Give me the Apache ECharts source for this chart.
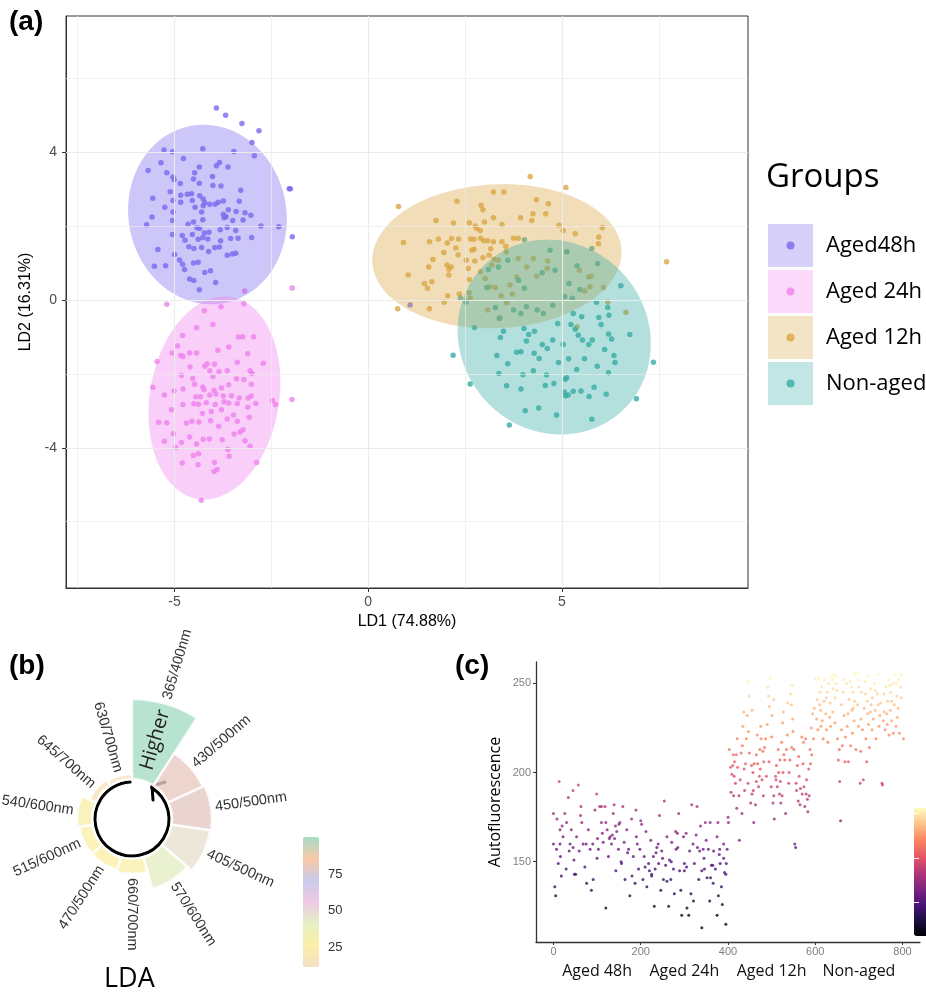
<!DOCTYPE html>
<html><head><meta charset="utf-8">
<script src="https://cdn.jsdelivr.net/npm/echarts/dist/echarts.min.js"></script>
<style>html,body{margin:0;padding:0;background:#fff}#chart{width:926px;height:994px}</style>
</head><body><div id="chart"></div>
<script>
// ---------- Panel (a): LDA scores ----------
const groupNames = ['Aged48h', 'Aged 24h', 'Aged 12h', 'Non-aged'];
const groupColors = ['#7B68EE', '#EE82EE', '#D9A645', '#36ADA4'];
const pts48 = [[-3.92,5.21],[-3.68,5.01],[-3.26,4.79],[-2.82,4.59],[-3.0,4.27],[-2.94,3.91],[-5.27,4.07],[-5.05,4.02],[-4.27,4.10],[-3.47,4.03],[-5.35,3.72],[-5.68,3.51],[-5.20,3.45],[-4.77,3.84],[-5.04,3.34],[-5.01,3.26],[-4.85,3.16],[-4.51,3.28],[-4.48,3.45],[-4.36,3.61],[-3.92,3.64],[-3.84,3.73],[-3.62,3.61],[-4.02,3.35],[-4.36,3.17],[-4.01,3.11],[-3.80,3.09],[-3.29,2.98],[-5.56,2.76],[-5.11,2.94],[-4.84,2.84],[-4.67,2.87],[-4.56,2.88],[-4.35,2.83],[-4.26,2.74],[-4.22,2.64],[-4.09,2.60],[-3.95,2.60],[-3.87,2.65],[-3.74,2.69],[-5.25,2.52],[-5.04,2.70],[-4.84,2.65],[-4.54,2.70],[-4.47,2.52],[-4.26,2.56],[-3.33,2.68],[-5.04,2.39],[-4.30,2.39],[-3.61,2.45],[-3.41,2.40],[-3.18,2.37],[-3.03,2.30],[-3.74,2.33],[-5.58,2.25],[-5.05,2.16],[-4.65,2.06],[-4.51,2.12],[-4.27,2.18],[-3.72,2.23],[-3.67,2.26],[-3.50,2.16],[-3.23,2.17],[-5.72,2.04],[-4.42,1.96],[-4.35,1.94],[-4.23,1.82],[-4.11,1.84],[-3.82,1.91],[-3.64,1.97],[-3.42,1.89],[-2.77,2.01],[-2.31,1.99],[-5.05,1.78],[-4.80,1.75],[-4.54,1.78],[-4.39,1.65],[-4.27,1.70],[-4.14,1.66],[-3.81,1.61],[-3.55,1.67],[-3.36,1.68],[-3.01,1.70],[-1.96,1.72],[-4.73,1.62],[-4.63,1.45],[-4.50,1.40],[-4.30,1.43],[-4.12,1.32],[-3.96,1.43],[-3.84,1.44],[-3.64,1.22],[-3.51,1.25],[-3.42,1.27],[-5.43,1.37],[-5.0,1.24],[-4.87,1.09],[-4.79,0.97],[-4.51,1.01],[-4.39,1.03],[-5.52,0.92],[-5.23,0.93],[-4.74,0.83],[-4.22,0.75],[-4.07,0.80],[-4.61,0.57],[-4.50,0.53],[-3.94,0.48],[-4.36,0.28],[-2.04,3.02],[-2.01,3.02],[1.08,-0.13]];
const pts24 = [[-3.19,0.25],[-1.96,0.33],[-5.20,-0.11],[-3.80,-0.18],[-3.21,-0.10],[-4.23,-0.29],[-4.43,-0.75],[-4.01,-0.66],[-4.79,-0.96],[-3.35,-1.0],[-3.24,-0.99],[-2.96,-0.99],[-4.92,-1.24],[-5.06,-1.43],[-4.84,-1.50],[-4.61,-1.43],[-4.43,-1.43],[-3.88,-1.36],[-3.60,-1.27],[-3.11,-1.45],[-5.45,-1.66],[-4.78,-1.53],[-4.22,-1.79],[-4.16,-1.73],[-3.97,-1.74],[-4.60,-1.81],[-3.38,-1.68],[-2.71,-1.71],[-4.09,-1.91],[-3.85,-1.93],[-3.64,-1.91],[-3.05,-1.91],[-3.0,-1.99],[-4.82,-2.04],[-4.53,-2.12],[-4.01,-2.07],[-3.40,-2.13],[-3.21,-2.15],[-3.02,-2.28],[-5.56,-2.36],[-5.01,-2.46],[-4.78,-2.41],[-4.48,-2.28],[-4.27,-2.35],[-4.24,-2.43],[-3.98,-2.44],[-3.79,-2.38],[-3.60,-2.29],[-5.26,-2.57],[-4.45,-2.62],[-4.33,-2.62],[-4.09,-2.57],[-3.93,-2.54],[-3.74,-2.60],[-3.53,-2.59],[-3.33,-2.65],[-3.10,-2.65],[-3.02,-2.60],[-2.47,-2.72],[-2.39,-2.83],[-1.97,-2.69],[-5.08,-2.97],[-4.78,-2.83],[-4.50,-2.81],[-4.38,-2.82],[-4.18,-2.78],[-3.95,-2.83],[-3.72,-2.75],[-3.60,-2.79],[-3.38,-2.80],[-2.90,-2.80],[-4.28,-3.07],[-4.05,-3.02],[-3.79,-2.97],[-3.48,-3.11],[-3.11,-2.90],[-3.07,-3.17],[-5.41,-3.31],[-5.20,-3.32],[-4.69,-3.33],[-4.55,-3.28],[-4.37,-3.30],[-4.07,-3.27],[-3.86,-3.42],[-3.64,-3.22],[-3.38,-3.28],[-3.23,-3.51],[-5.03,-3.62],[-4.82,-3.86],[-4.61,-3.71],[-4.43,-3.90],[-4.26,-3.77],[-4.10,-3.76],[-3.77,-3.78],[-3.46,-3.63],[-3.31,-3.57],[-5.26,-3.82],[-4.97,-3.99],[-4.51,-4.21],[-4.38,-4.16],[-3.62,-4.05],[-3.18,-3.81],[-3.05,-3.96],[-3.59,-4.23],[-4.80,-4.41],[-4.39,-4.46],[-3.97,-4.40],[-2.88,-4.40],[-3.98,-4.64],[-3.90,-4.59],[-4.31,-5.42]];
const pts12 = [[4.18,3.35],[5.10,3.05],[0.78,2.54],[3.23,2.93],[3.50,2.93],[2.29,2.68],[2.91,2.57],[2.96,2.45],[4.34,2.72],[4.65,2.61],[4.25,2.34],[4.58,2.34],[1.75,2.16],[2.20,2.09],[2.61,2.10],[2.76,2.01],[2.80,1.94],[2.89,1.89],[3.0,2.12],[3.23,2.23],[3.45,2.05],[3.93,2.23],[4.22,2.16],[4.92,2.03],[5.03,1.89],[5.34,1.80],[6.04,1.96],[5.95,1.71],[5.94,1.53],[0.91,1.56],[1.58,1.58],[1.81,1.66],[2.04,1.55],[2.15,1.67],[2.33,1.66],[2.64,1.66],[2.73,1.65],[2.90,1.68],[2.98,1.61],[3.08,1.61],[3.23,1.58],[3.45,1.58],[3.55,1.46],[3.75,1.68],[3.87,1.68],[1.95,1.29],[2.26,1.41],[2.32,1.23],[2.67,1.35],[2.73,1.38],[3.16,1.39],[1.67,1.10],[2.03,0.95],[2.08,0.84],[2.14,0.90],[2.53,1.08],[2.58,0.86],[2.75,1.06],[2.96,1.15],[3.12,1.22],[3.25,1.11],[3.36,1.08],[1.03,0.68],[1.56,0.90],[1.64,0.50],[1.45,0.45],[1.53,0.32],[2.08,0.68],[2.61,0.56],[2.90,0.77],[3.02,0.59],[3.14,0.36],[3.28,0.34],[2.05,0.12],[1.96,-0.06],[2.35,0.17],[2.61,0.20],[3.43,0.12],[3.57,-0.07],[3.72,0.17],[1.58,-0.23],[0.76,-0.23],[2.63,0.05],[3.08,-0.27],[3.40,-0.48],[4.35,0.65],[4.62,0.86],[5.12,1.31],[5.45,0.81],[5.69,0.63],[5.75,0.65],[5.59,0.25],[5.72,0.36],[6.07,0.34],[6.18,-0.05],[6.65,-0.33],[7.70,1.04],[5.39,-0.72],[3.87,1.13],[4.09,0.90],[4.26,1.13],[4.63,1.06],[3.83,0.63],[3.66,0.41],[3.56,1.31],[3.19,0.95]];
const ptsNon = [[4.03,1.64],[4.69,1.35],[5.13,1.31],[5.77,1.40],[3.10,0.83],[3.36,0.90],[3.60,1.08],[3.88,0.54],[4.03,0.32],[4.49,0.74],[4.82,0.81],[5.18,0.45],[5.39,0.93],[5.92,0.99],[6.52,0.39],[2.38,0.06],[2.52,-0.05],[2.74,-0.74],[3.06,0.34],[3.28,-0.20],[3.38,-0.50],[3.75,-0.27],[3.94,-0.36],[4.08,-0.18],[4.36,-0.27],[4.52,-0.36],[4.76,-0.14],[5.07,0.09],[5.27,0.05],[5.46,0.29],[5.89,-0.06],[6.18,-0.20],[5.29,-0.36],[5.51,-0.45],[5.95,-0.47],[6.21,-0.41],[6.75,-0.93],[7.36,-1.68],[6.92,-2.67],[2.19,-1.49],[2.63,-2.27],[3.64,-3.38],[3.49,-0.84],[3.41,-1.01],[3.83,-1.41],[3.94,-1.40],[4.02,-0.77],[4.14,-0.93],[4.29,-0.84],[4.49,-1.20],[4.62,-1.31],[4.76,-1.08],[4.89,-0.63],[5.03,-1.20],[5.23,-0.66],[5.34,-0.79],[5.42,-0.95],[5.53,-1.08],[5.69,-1.20],[5.78,-1.08],[6.01,-0.66],[6.10,-1.34],[6.20,-0.92],[6.28,-1.05],[6.34,-1.50],[6.37,-1.69],[4.08,-1.11],[4.28,-1.44],[4.41,-1.58],[4.91,-1.69],[5.17,-1.59],[5.38,-1.88],[5.58,-1.59],[5.91,-1.79],[6.20,-1.97],[3.32,-1.50],[3.37,-1.99],[3.60,-1.72],[3.99,-2.02],[4.26,-1.91],[4.60,-2.03],[4.79,-2.26],[5.08,-2.14],[5.12,-2.10],[5.06,-2.49],[5.29,-2.47],[5.49,-2.46],[5.83,-2.36],[6.14,-2.55],[3.57,-2.32],[3.94,-2.41],[4.57,-2.31],[5.09,-2.59],[5.16,-2.57],[5.70,-2.61],[4.05,-3.0],[4.40,-2.92],[4.86,-3.11],[5.77,-3.23]];
// ellipse summaries: [centreX, centreY, semiAxisX, semiAxisY, tiltDeg]
const ellipse48 = [-4.15, 2.32, 2.04, 2.44, 8];
const ellipse24 = [-3.97, -2.65, 1.67, 2.77, -8.5];
const ellipse12 = [3.32, 1.19, 3.22, 1.95, 3];
const ellipseNon = [4.80, -1.00, 2.45, 2.68, 25];
const aTicksX = [-5, 0, 5];
const aTicksY = [-4, 0, 4];
const aMinorX = [-7.5, -2.5, 2.5, 7.5];
const aMinorY = [-6, -2, 2, 6];

// ---------- Panel (b): LDA band importance ----------
const ldaBands = ['365/400nm','430/500nm','450/500nm','405/500nm','570/600nm','660/700nm','470/500nm','515/600nm','540/600nm','645/700nm','630/700nm'];
const ldaLength = [81, 38, 40, 39, 33, 15, 13, 13, 15, 7, 5];
const ldaImportance = [100, 80, 79, 47, 42, 28, 27, 28, 29, 16, 15];
const ldaTicks = [25, 50, 75];
const ldaHighlight = 'Higher';

// ---------- Panel (c): autofluorescence per sample ----------
const afAged48_24 = [[0,177],[0,160],[3,136],[5,131],[7,157],[8,174],[11,149],[13,195],[15,168],[16,153],[18,142],[22,164],[26,177],[29,146],[30,172],[34,186],[36,156],[38,160],[41,168],[45,190],[47,151],[51,143],[53,164],[57,193],[59,156],[63,181],[65,172],[68,160],[72,147],[76,138],[80,168],[84,157],[87,134],[91,140],[95,179],[99,188],[101,163],[103,157],[106,181],[110,172],[114,161],[118,181],[120,124],[123,168],[126,153],[130,164],[133,160],[137,177],[139,182],[143,145],[145,167],[149,157],[152,172],[156,149],[159,181],[162,161],[164,140],[168,168],[172,157],[175,131],[179,174],[183,153],[187,138],[189,179],[192,160],[195,146],[198,157],[202,171],[205,140],[208,153],[212,167],[214,136],[218,149],[220,145],[223,162],[225,142],[229,153],[231,125],[233,146],[237,158],[241,149],[243,176],[246,134],[248,156],[252,140],[254,184],[257,148],[260,164],[264,125],[266,151],[269,140],[271,161],[275,146],[277,132],[281,157],[284,166],[287,177],[289,145],[292,134],[294,120],[298,164],[300,149],[304,166],[306,124],[310,120],[312,156],[315,132],[317,182],[321,128],[323,149],[327,165],[329,181],[333,140],[335,156],[337,170],[340,113],[343,157],[346,146],[348,172],[352,141],[355,157],[358,128],[359,172],[362,148],[366,138],[367,156],[371,146],[375,120],[377,172],[378,131],[381,157],[382,149],[385,136],[387,126],[390,152],[392,144],[395,115],[396,149],[398,157],[400,175],[401,172],[20,170],[45,158],[62,176],[90,160],[112,166],[128,163],[135,165],[142,170],[155,150],[170,155],[190,164],[210,147],[235,155],[250,152],[270,150],[285,158],[305,147],[320,160],[345,152],[360,141],[380,154],[395,143],[110,181],[140,163],[260,139],[300,145],[330,158],[350,162],[365,148],[15,160],[48,143],[75,160],[100,152],[120,172],[150,171],[180,142],[200,173],[225,143],[240,160],[280,167],[340,145],[375,164],[390,160]];
const afAged12 = [[403,213],[406,203],[407,189],[409,199],[411,204],[413,187],[414,198],[417,194],[419,210],[421,219],[422,203],[425,187],[426,162],[428,196],[430,211],[432,177],[434,226],[436,234],[437,202],[440,205],[442,219],[444,232],[445,251],[446,194],[448,243],[449,211],[452,183],[454,204],[455,188],[457,200],[459,172],[463,182],[465,195],[467,221],[468,205],[470,192],[473,213],[474,202],[476,219],[478,196],[481,187],[482,206],[484,214],[486,219],[488,198],[490,227],[491,248],[493,243],[495,237],[497,253],[499,192],[501,232],[503,183],[505,187],[506,174],[509,198],[511,204],[513,192],[515,213],[516,200],[519,207],[520,195],[523,217],[524,187],[526,200],[527,234],[530,207],[532,177],[534,213],[536,221],[537,239],[539,194],[542,207],[543,244],[545,238],[547,249],[549,223],[551,213],[553,160],[555,158],[557,190],[559,204],[561,184],[562,209],[565,182],[566,191],[569,220],[570,188],[573,217],[574,192],[576,181],[578,219],[580,196],[582,185],[583,178],[586,187],[588,213],[589,205],[591,225],[594,233],[596,219],[598,236],[415,206],[420,180],[433,215],[438,190],[447,223],[460,205],[465,210],[472,198],[480,212],[494,206],[500,220],[510,196],[518,188],[528,210],[540,200],[548,230],[556,194],[563,198],[572,205],[585,202],[592,210],[455,235],[475,226],[505,241],[525,228],[412,210],[458,190],[521,183],[546,214],[579,188]];
const afNonAged = [[601,252],[603,230],[604,241],[606,224],[608,253],[611,245],[612,235],[615,248],[616,229],[618,219],[620,240],[621,252],[624,233],[626,224],[628,245],[629,217],[631,250],[634,239],[635,226],[638,254],[640,234],[641,247],[643,255],[645,242],[647,250],[649,254],[651,219],[653,207],[655,213],[656,195],[658,173],[660,224],[662,215],[664,245],[666,232],[668,206],[669,220],[672,250],[673,226],[676,206],[677,241],[680,251],[681,215],[684,235],[685,222],[687,245],[689,229],[691,255],[693,213],[695,256],[697,238],[699,226],[700,248],[703,194],[704,212],[706,245],[708,224],[710,196],[712,236],[714,251],[716,219],[718,206],[719,240],[722,227],[723,254],[726,234],[727,247],[730,224],[731,242],[733,230],[735,250],[737,235],[739,219],[742,244],[745,255],[746,226],[750,239],[753,194],[754,193],[756,229],[758,234],[760,224],[762,248],[764,233],[766,240],[768,252],[769,221],[772,235],[773,245],[775,229],[778,250],[779,222],[781,238],[783,255],[785,226],[787,243],[788,231],[791,252],[793,222],[795,248],[796,255],[798,254],[802,219],[610,238],[625,242],[633,231],[645,228],[650,246],[660,238],[675,233],[683,248],[690,240],[698,252],[705,230],[715,244],[720,233],[728,238],[738,246],[748,232],[757,244],[765,227],[775,240],[790,236],[797,242],[613,226],[640,252],[665,252],[687,236],[724,214],[744,238],[771,249],[786,250]];
const cTicksX = [0, 200, 400, 600, 800];
const cTicksY = [150, 200, 250];
const cGroupLabels = ['Aged 48h', 'Aged 24h', 'Aged 12h', 'Non-aged'];
const cGroupCentres = [100, 300, 500, 700];

// ---------- build ----------
function rgba(hex, a) { const n = parseInt(hex.slice(1), 16); return 'rgba(' + (n >> 16) + ',' + ((n >> 8) & 255) + ',' + (n & 255) + ',' + a + ')'; }
const FILL_ALPHA = 0.38;
const groupPoints = [pts48, pts24, pts12, ptsNon];
const groupEllipses = [ellipse48, ellipse24, ellipse12, ellipseNon];
const B_CX = 132, B_CY = 819;
const SANS = '"Liberation Sans", Arial, sans-serif';
const OPEN = '"Open Sans", sans-serif';

const chart = echarts.init(document.getElementById('chart'), null, { renderer: 'canvas' });

const gridLineData = [].concat(
  aTicksX.map(v => ({ xAxis: v, lineStyle: { width: 1.1 } })),
  aMinorX.map(v => ({ xAxis: v, lineStyle: { width: 0.7 } })),
  aTicksY.map(v => ({ yAxis: v, lineStyle: { width: 1.1 } })),
  aMinorY.map(v => ({ yAxis: v, lineStyle: { width: 0.7 } }))
);

const series = [];
series.push({
  type: 'scatter', name: '__grid', xAxisIndex: 0, yAxisIndex: 0, data: [], z: 1, silent: true,
  markLine: { silent: true, symbol: ['none', 'none'], label: { show: false }, animation: false,
    lineStyle: { color: '#ebebeb', type: 'solid' }, emphasis: { disabled: true }, data: gridLineData }
});
groupNames.forEach((n, g) => {
  series.push({ type: 'scatter', name: n, xAxisIndex: 0, yAxisIndex: 0, data: groupPoints[g], symbolSize: 5.5,
    itemStyle: { color: groupColors[g] }, z: 2, emphasis: { disabled: true } });
});
groupNames.forEach((n, g) => {
  series.push({ type: 'custom', name: n, xAxisIndex: 0, yAxisIndex: 0, data: [groupEllipses[g]], z: 3, silent: true,
    encode: { x: 0, y: 1 },
    renderItem: function (params, api) {
      const cx = api.value(0), cy = api.value(1), rx = api.value(2), ry = api.value(3), a = api.value(4) * Math.PI / 180;
      const pts = [];
      for (let k = 0; k < 120; k++) {
        const t = k / 120 * 2 * Math.PI, ex = rx * Math.cos(t), ey = ry * Math.sin(t);
        pts.push(api.coord([cx + ex * Math.cos(a) - ey * Math.sin(a), cy + ex * Math.sin(a) + ey * Math.cos(a)]));
      }
      return { type: 'polygon', shape: { points: pts }, style: { fill: rgba(groupColors[g], FILL_ALPHA), stroke: null } };
    } });
});
// (c)
series.push({ type: 'scatter', name: 'af', xAxisIndex: 1, yAxisIndex: 1, symbolSize: 3,
  data: [].concat(afAged48_24, afAged12, afNonAged), emphasis: { disabled: true } });
const C_SERIES = series.length - 1;
// (b)
series.push({ type: 'bar', coordinateSystem: 'polar', datasetIndex: 0, encode: { angle: 0, radius: 1 },
  barCategoryGap: '0%', itemStyle: { borderColor: '#fff', borderWidth: 2.5, opacity: 0.8 }, emphasis: { disabled: true } });
const B_SERIES = series.length - 1;
series.push({ type: 'custom', coordinateSystem: 'polar', datasetIndex: 0, encode: { angle: 0, radius: 1 }, silent: true, z: 5,
  renderItem: function (params, api) {
    const i = params.dataIndex, len = api.value(1), cs = params.coordSys;
    const p = api.coord([len + 4, i]);
    const th = Math.atan2(cs.cy - p[1], p[0] - cs.cx);
    const right = Math.cos(th) > -1e-6;
    const kids = [{ type: 'text', x: p[0], y: p[1], rotation: right ? th : th - Math.PI,
      style: { text: ldaBands[i], align: right ? 'left' : 'right', verticalAlign: 'middle', fill: '#333', fontSize: 14.5, fontFamily: SANS } }];
    if (ldaImportance[i] === Math.max.apply(null, ldaImportance)) {
      const q = api.coord([len / 2 + 2, i]);
      const t2 = Math.atan2(cs.cy - q[1], q[0] - cs.cx);
      kids.push({ type: 'text', x: q[0], y: q[1], rotation: t2,
        style: { text: ldaHighlight, align: 'center', verticalAlign: 'middle', fill: '#222', fontSize: 20, fontFamily: OPEN } });
    }
    return { type: 'group', children: kids };
  } });

const hidden = { show: false };
const option = {
  animation: false,
  backgroundColor: '#fff',
  textStyle: { fontFamily: SANS },
  title: [
    { text: '(a)', left: 9, top: 8, padding: 0, textStyle: { fontSize: 28, fontWeight: 'bold', fontFamily: SANS, color: '#000' } },
    { text: '(b)', left: 9, top: 652, padding: 0, textStyle: { fontSize: 28, fontWeight: 'bold', fontFamily: SANS, color: '#000' } },
    { text: '(c)', left: 455, top: 652, padding: 0, textStyle: { fontSize: 28, fontWeight: 'bold', fontFamily: SANS, color: '#000' } },
    { text: 'Groups', left: 766, top: 161, padding: 0, textStyle: { fontSize: 33, fontWeight: 'normal', fontFamily: OPEN, color: '#000' } },
    { text: 'LDA', left: 104, top: 966, padding: 0, textStyle: { fontSize: 27, fontWeight: 'normal', fontFamily: OPEN, color: '#000' } }
  ],
  legend: [
    { orient: 'vertical', left: 768, top: 224, padding: 0, itemGap: 3, itemWidth: 45, itemHeight: 43, icon: 'rect',
      data: groupNames.map((n, g) => ({ name: n, itemStyle: { color: rgba(groupColors[g], FILL_ALPHA), borderWidth: 0 } })),
      textStyle: { fontSize: 22, color: '#000', fontFamily: OPEN, padding: [7, 0, 0, 8] }, selectedMode: false },
    { orient: 'vertical', left: 786.5, top: 224, padding: 0, itemGap: 3, itemWidth: 8, itemHeight: 8, icon: 'circle',
      data: groupNames.map((n, g) => ({ name: n, itemStyle: { color: groupColors[g], borderWidth: 0 } })),
      formatter: function () { return ' '; }, textStyle: { fontSize: 10, lineHeight: 43, color: 'transparent' }, selectedMode: false }
  ],
  dataset: [{ source: ldaBands.map((b, i) => [b, ldaLength[i], ldaImportance[i]]) }],
  polar: { center: [B_CX, B_CY], radius: [40, 120] },
  angleAxis: { type: 'category', data: ldaBands, startAngle: 90, clockwise: true,
    axisLine: hidden, axisTick: hidden, axisLabel: hidden, splitLine: hidden },
  radiusAxis: { type: 'value', min: 0, max: 80, axisLine: hidden, axisTick: hidden, axisLabel: hidden, splitLine: hidden },
  grid: [
    { left: 66, top: 16, width: 682, height: 572, show: true, borderColor: '#333', borderWidth: 1, backgroundColor: 'transparent' },
    { left: 536, top: 662, width: 384, height: 280 },
    { left: 303, top: 837, width: 16, height: 130 },
    { left: 914, top: 808, width: 12, height: 128 }
  ],
  xAxis: [
    { gridIndex: 0, type: 'value', min: -7.8, max: 9.8, position: 'bottom', name: 'LD1 (74.88%)', nameLocation: 'middle', nameGap: 25,
      nameTextStyle: { fontSize: 16, color: '#000', fontFamily: SANS },
      axisLine: { show: true, onZero: false, lineStyle: { color: '#333', width: 1 } },
      axisTick: { show: true, customValues: aTicksX, length: 4, lineStyle: { color: '#333' } },
      axisLabel: { customValues: aTicksX, color: '#4d4d4d', fontSize: 14, margin: 7 }, splitLine: hidden },
    { gridIndex: 1, type: 'value', min: -40, max: 840, position: 'bottom',
      axisLine: { show: true, onZero: false, lineStyle: { color: '#333', width: 1.3 } },
      axisTick: { show: true, customValues: cTicksX, length: 3, lineStyle: { color: '#333' } },
      axisLabel: { customValues: cTicksX, color: '#7f7f7f', fontSize: 11, margin: 4 }, splitLine: hidden },
    { gridIndex: 1, type: 'value', min: -40, max: 840, position: 'bottom', offset: 0,
      axisLine: { show: false, onZero: false }, axisTick: hidden, splitLine: hidden,
      axisLabel: { customValues: cGroupCentres, formatter: v => cGroupLabels[cGroupCentres.indexOf(v)] || '',
        color: '#111', fontSize: 16, fontFamily: OPEN, margin: 21 } },
    { gridIndex: 2, type: 'value', show: false },
    { gridIndex: 3, type: 'value', show: false }
  ],
  yAxis: [
    { gridIndex: 0, type: 'value', min: -7.8, max: 7.7, position: 'left', name: 'LD2 (16.31%)', nameLocation: 'middle', nameGap: 23,
      nameTextStyle: { fontSize: 16, color: '#000', fontFamily: SANS },
      axisLine: { show: true, onZero: false, lineStyle: { color: '#333', width: 1 } },
      axisTick: { show: true, customValues: aTicksY, length: 4, lineStyle: { color: '#333' } },
      axisLabel: { customValues: aTicksY, color: '#4d4d4d', fontSize: 14, margin: 9 }, splitLine: hidden },
    { gridIndex: 1, type: 'value', min: 105, max: 262, position: 'left', name: 'Autofluorescence', nameLocation: 'middle', nameGap: 33,
      nameTextStyle: { fontSize: 16, color: '#000', fontFamily: OPEN },
      axisLine: { show: true, onZero: false, lineStyle: { color: '#333', width: 1.3 } },
      axisTick: { show: true, customValues: cTicksY, length: 3, lineStyle: { color: '#333' } },
      axisLabel: { customValues: cTicksY, color: '#7f7f7f', fontSize: 11, margin: 5 }, splitLine: hidden },
    { gridIndex: 2, type: 'value', min: 12, max: 100, position: 'right', z: 10,
      axisLine: hidden, splitLine: hidden,
      axisTick: { show: true, inside: true, customValues: ldaTicks, length: 4, lineStyle: { color: '#fff', width: 1 } },
      axisLabel: { customValues: ldaTicks, color: '#333', fontSize: 13, margin: 9 } },
    { gridIndex: 3, type: 'value', min: 112, max: 256, position: 'left', z: 10,
      axisLine: hidden, splitLine: hidden, axisLabel: hidden,
      axisTick: { show: true, inside: true, customValues: cTicksY, length: 5, lineStyle: { color: '#fff', width: 1 } } }
  ],
  visualMap: [
    { type: 'continuous', min: 12, max: 100, dimension: 2, seriesIndex: B_SERIES, left: 303, top: 837,
      itemWidth: 16, itemHeight: 130, padding: 0, calculable: false, hoverLink: false, text: null, showLabel: false,
      inRange: { color: ['#f2e0c4', '#fcefa8', '#e4f0c4', '#efc9e6', '#c9cbea', '#f9c8a6', '#a6dcc6'] } },
    { type: 'continuous', min: 112, max: 256, dimension: 1, seriesIndex: C_SERIES, left: 914, top: 808,
      itemWidth: 14, itemHeight: 128, padding: 0, calculable: false, hoverLink: false, text: null,
      inRange: { color: ['#000004', '#1c1044', '#4f127b', '#812581', '#b5367a', '#e55964', '#fb8761', '#fec287', '#fcfdbf'] } }
  ],
  graphic: [{
    type: 'group', x: B_CX, y: B_CY, z: 100, silent: true,
    children: [
      { type: 'arc', shape: { cx: 0, cy: 0, r: 37, startAngle: -58 * Math.PI / 180, endAngle: 267 * Math.PI / 180, clockwise: true },
        style: { stroke: '#000', lineWidth: 3, fill: null, lineCap: 'round' } },
      { type: 'polyline', shape: { points: [[33, -37], [20, -33], [21, -19]] },
        style: { stroke: '#000', lineWidth: 3, fill: null, lineCap: 'round', lineJoin: 'round' } }
    ]
  }],
  series: series
};
chart.setOption(option);
</script></body></html>
